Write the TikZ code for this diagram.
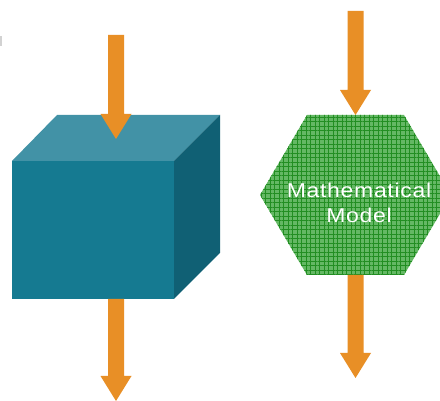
\documentclass[tikz,border=0pt]{standalone}
\usepackage{fontspec}
\setmainfont{Liberation Sans}
\usetikzlibrary{patterns.meta}
\definecolor{arrowc}{RGB}{232,143,38}
\definecolor{cubefront}{RGB}{21,122,145}
\definecolor{cubetop}{RGB}{66,146,166}
\definecolor{cuberight}{RGB}{16,96,116}
\definecolor{hexfill}{RGB}{100,184,100}
\definecolor{hexline}{RGB}{34,142,34}
\newcommand\myblockarrow[3]{%
  \fill[arrowc] (#1-8,#2) -- (#1+8,#2) -- (#1+8,#3-25) -- (#1+15.5,#3-25)
    -- (#1,#3) -- (#1-15.5,#3-25) -- (#1-8,#3-25) -- cycle;}
\begin{document}
\begin{tikzpicture}[x=1pt,y=-1pt]
\useasboundingbox (0,0) rectangle (440,401);
\fill[white] (0,0) rectangle (440,401);
\fill[gray!35] (0,36) rectangle (1.5,46);
% cube
\fill[cubefront] (12,161) rectangle (174,299);
\fill[cubetop] (12,161) -- (57,115) -- (220,115) -- (174,161) -- cycle;
\fill[cuberight] (174,161) -- (220,115) -- (220,253) -- (174,299) -- cycle;
\myblockarrow{116}{35}{139}
\myblockarrow{116}{299}{401}
% hexagon
\path[fill=hexfill] (307,115) -- (404,115) -- (451,195) -- (404,275) -- (307,275) -- (260,195) -- cycle;
\path[pattern={Lines[distance=4.5pt,angle=0,line width=1pt]},pattern color=hexline]
  (307,115) -- (404,115) -- (451,195) -- (404,275) -- (307,275) -- (260,195) -- cycle;
\path[pattern={Lines[distance=4.5pt,angle=90,line width=1pt]},pattern color=hexline]
  (307,115) -- (404,115) -- (451,195) -- (404,275) -- (307,275) -- (260,195) -- cycle;
\node[text=white,align=center,xscale=1.15,transform shape,font=\fontsize{20}{25}\selectfont\addfontfeature{LetterSpace=3}] (model) at (359,203) {Mathematical\\Model};
\myblockarrow{355.5}{11}{115}
\myblockarrow{355.5}{275}{378}
\end{tikzpicture}
\end{document}
